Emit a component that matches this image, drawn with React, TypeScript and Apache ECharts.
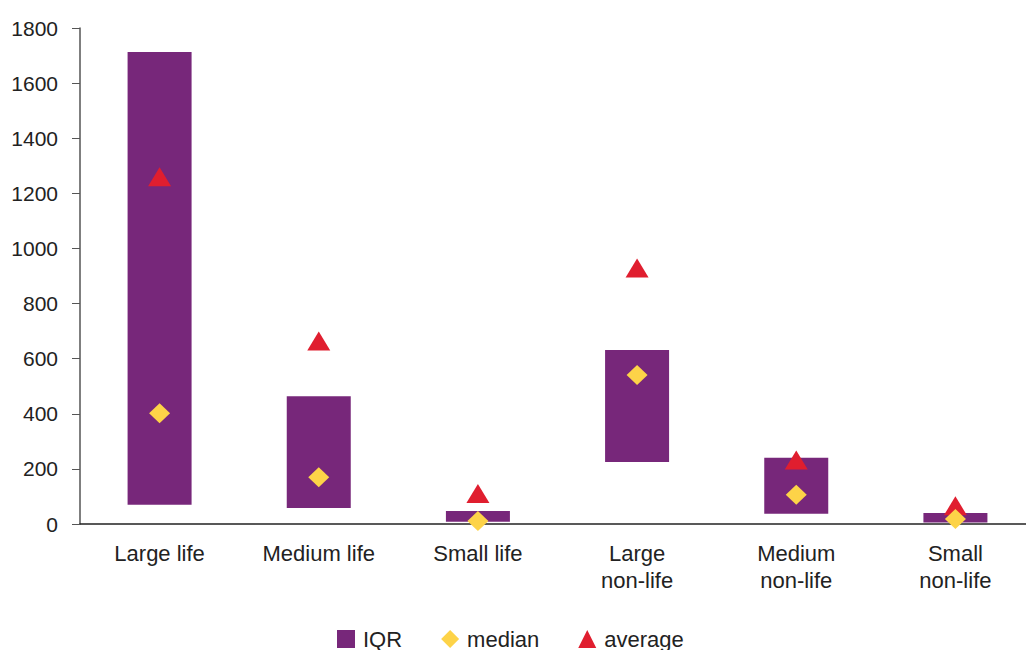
import React, { useEffect, useRef } from "react";
import * as echarts from "echarts";

const categories = ["Large life", "Medium life", "Small life", "Large\nnon-life", "Medium\nnon-life", "Small\nnon-life"];
const q1Values = [70, 58, 8, 225, 37, 5];
const q3Values = [1713, 464, 47, 631, 240, 40];
const medianValues = [402, 170, 11, 541, 106, 18];
const averageValues = [1260, 664, 111, 929, 232, 66];
const yTicks = { min: 0, max: 1800, interval: 200 };

const PURPLE = "#77277A";
const YELLOW = "#FDD348";
const RED = "#E01E2F";
const FONT = "Liberation Sans, Arial, sans-serif";

export default function App() {
  const ref = useRef<HTMLDivElement>(null);
  useEffect(() => {
    if (!ref.current) return;
    const chart = echarts.init(ref.current, undefined, { renderer: "svg" });
    const iqr = q3Values.map((v, i) => v - q1Values[i]);
    chart.setOption({
      animation: false,
      backgroundColor: "#fff",
      textStyle: { fontFamily: FONT },
      grid: { left: 80, top: 28, bottom: 126, right: 0 },
      legend: {
        left: 332,
        top: 623,
        itemWidth: 18,
        itemHeight: 18,
        itemGap: 39,
        selectedMode: false,
        textStyle: { fontFamily: FONT, fontSize: 22, color: "#222", padding: [0, 0, 0, 3] },
        data: [
          { name: "IQR", icon: "rect", itemStyle: { color: PURPLE, opacity: 1 } },
          { name: "median", icon: "diamond", itemStyle: { color: YELLOW, opacity: 1 } },
          { name: "average", icon: "triangle", itemStyle: { color: RED, opacity: 1 } },
        ],
      },
      xAxis: {
        type: "category",
        data: categories,
        axisLine: { lineStyle: { color: "#222", width: 1.5 } },
        axisTick: { length: 6, lineStyle: { color: "#222" } },
        axisLabel: { fontFamily: FONT, fontSize: 22, color: "#222", margin: 16, lineHeight: 27, interval: 0 },
        splitLine: { show: false },
      },
      yAxis: {
        type: "value",
        min: yTicks.min,
        max: yTicks.max,
        interval: yTicks.interval,
        axisLine: { show: true, lineStyle: { color: "#555", width: 1.5 } },
        axisTick: { show: true, length: 8, lineStyle: { color: "#555" } },
        axisLabel: { fontFamily: FONT, fontSize: 21, color: "#222", margin: 22, formatter: (v: number) => String(v) },
        splitLine: { show: false },
      },
      series: [
        {
          name: "base",
          type: "bar",
          stack: "iqr",
          barWidth: 64,
          data: q1Values,
          itemStyle: { color: "transparent" },
          silent: true,
        },
        {
          name: "IQR",
          type: "bar",
          stack: "iqr",
          barWidth: 64,
          data: iqr,
          itemStyle: { color: PURPLE },
        },
        {
          name: "average",
          type: "scatter",
          symbol: "triangle",
          symbolSize: [23, 19],
          data: averageValues,
          itemStyle: { color: RED, opacity: 1 },
          z: 3,
        },
        {
          name: "median",
          type: "scatter",
          symbol: "diamond",
          symbolSize: [21, 20],
          data: medianValues,
          itemStyle: { color: YELLOW, opacity: 1 },
          z: 4,
        },
      ],
    });
    return () => chart.dispose();
  }, []);
  return <div ref={ref} style={{ position: "fixed", left: 0, top: 0, width: 1035, height: 650 }} />;
}
